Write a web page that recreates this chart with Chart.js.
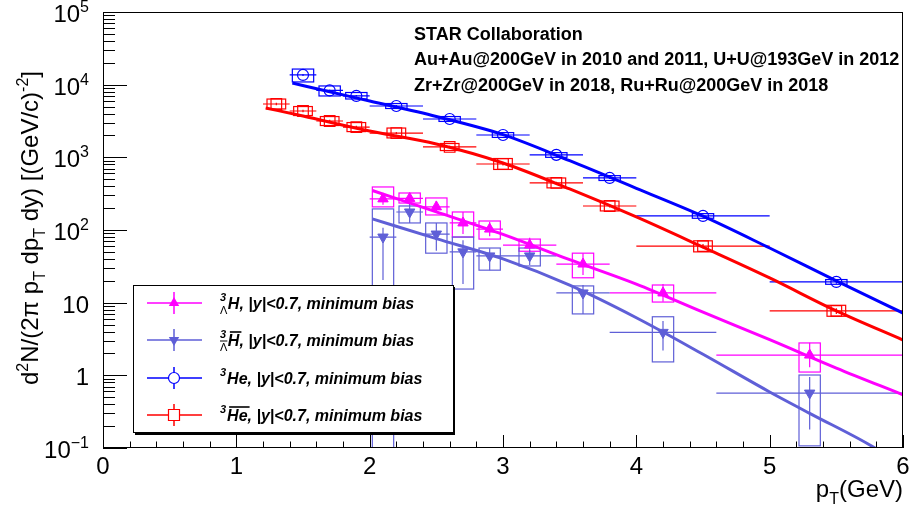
<!DOCTYPE html>
<html><head><meta charset="utf-8">
<script src="https://cdn.jsdelivr.net/npm/chart.js@4.4.0/dist/chart.umd.min.js"></script>
<style>html,body{margin:0;padding:0;background:#fff;}#wrap{width:913px;height:508px;}</style>
</head><body><div id="wrap"><canvas id="c" width="913" height="508"></canvas></div>
<script>
// ---------- data ----------
// 3He
const he3_pt     = [1.5, 1.7, 1.9, 2.2, 2.6, 3.0, 3.4, 3.8, 4.5, 5.5];
const he3_val    = [13600, 8320, 6990, 5090, 3370, 2030, 1080, 520, 156, 19.3];
const he3_xerr   = [0.1, 0.1, 0.1, 0.2, 0.2, 0.2, 0.2, 0.2, 0.5, 0.5];
const he3_statLo = [13200, 8100, 6800, 4950, 3280, 1980, 1050, 505, 150, 18.2];
const he3_statHi = [14000, 8550, 7180, 5230, 3460, 2080, 1110, 535, 162, 20.4];
const he3_sysLo  = [10900, 6990, 6350, 4700, 3120, 1880, 1000, 480, 145, 17.9];
const he3_sysHi  = [16400, 9600, 7800, 5500, 3640, 2190, 1160, 560, 168, 20.8];
// anti-3He
const ahe3_pt     = [1.3, 1.5, 1.7, 1.9, 2.2, 2.6, 3.0, 3.4, 3.8, 4.5, 5.5];
const ahe3_val    = [5420, 4340, 3160, 2610, 2160, 1390, 810, 444, 214, 60, 7.7];
const ahe3_xerr   = [0.1, 0.1, 0.1, 0.1, 0.2, 0.2, 0.2, 0.2, 0.2, 0.5, 0.5];
const ahe3_statLo = [5200, 4180, 3040, 2510, 2080, 1340, 775, 425, 204, 56, 7.0];
const ahe3_statHi = [5640, 4500, 3280, 2710, 2240, 1440, 845, 463, 224, 64, 8.4];
const ahe3_sysLo  = [4630, 3760, 2740, 2260, 1850, 1240, 681, 380, 183, 50, 6.5];
const ahe3_sysHi  = [6340, 5000, 3640, 3010, 2530, 1550, 963, 520, 250, 71, 9.2];
// hypertriton
const h3l_pt     = [2.1, 2.3, 2.5, 2.7, 2.9, 3.2, 3.6, 4.2, 5.3];
const h3l_val    = [268, 272, 208, 125, 103, 62, 34, 13.6, 1.9];
const h3l_xerr   = [0.1, 0.1, 0.1, 0.1, 0.1, 0.2, 0.2, 0.4, 0.7];
const h3l_statLo = [223, 231, 173, 88, 82, 49, 24, 10.3, 1.29];
const h3l_statHi = [322, 320, 249, 177, 130, 78, 48, 18, 2.8];
const h3l_sysLo  = [208, 235, 161, 80, 75, 51, 22, 10.2, 1.11];
const h3l_sysHi  = [391, 323, 276, 177, 133, 75, 48, 17.5, 2.79];
// anti-hypertriton
const ah3l_pt     = [2.1, 2.3, 2.5, 2.7, 2.9, 3.2, 3.6, 4.2, 5.3];
const ah3l_val    = [80, 177, 88, 50, 44, 44, 13.6, 3.9, 0.57];
const ah3l_xerr   = [0.1, 0.1, 0.1, 0.1, 0.1, 0.2, 0.2, 0.4, 0.7];
const ah3l_statLo = [20.5, 125, 52, 18, 28, 33, 7.0, 2.2, 0.18];
const ah3l_statHi = [107, 236, 125, 72, 56, 53, 17.5, 5.6, 0.95];
const ah3l_sysLo  = [0.05, 125, 48, 15.4, 28, 32, 7.0, 1.53, 0.107];
const ah3l_sysHi  = [195, 214, 125, 80, 56.5, 56.5, 17, 6.4, 1.01];
// fit curves
const he3_fit_pt   = [1.42, 1.7, 2.0, 2.5, 3.0, 3.5, 4.0, 4.5, 5.0, 5.5, 6.0];
const he3_fit_val  = [10540, 7980, 5960, 3650, 2050, 900, 375, 155, 56.5, 20, 7.2];
const ahe3_fit_pt  = [1.22, 1.5, 2.0, 2.5, 3.0, 3.5, 4.0, 4.5, 5.0, 5.5, 6.0];
const ahe3_fit_val = [4780, 3700, 2300, 1525, 835, 367, 151, 58, 21.9, 7.7, 3.06];
const h3l_fit_pt   = [2.02, 2.5, 3.0, 3.5, 4.0, 4.5, 5.0, 5.5, 6.0];
const h3l_fit_val  = [350, 178, 87, 39, 18, 7.4, 3.1, 1.26, 0.54];
const ah3l_fit_pt  = [2.02, 2.5, 3.0, 3.5, 4.0, 4.5, 5.0, 5.3, 5.79, 6.0];
const ah3l_fit_val = [142, 76, 40, 17.4, 6.2, 1.95, 0.59, 0.30, 0.1, 0.055];
// axes
const X_TICKS = [0, 1, 2, 3, 4, 5, 6];
const X_TICK_LABELS = ['0', '1', '2', '3', '4', '5', '6'];
const Y_TICKS = [0.1, 1, 10, 100, 1000, 10000, 100000];
const Y_TICK_LABELS = [['10', '\u22121'], ['1', ''], ['10', ''], ['10', '2'], ['10', '3'], ['10', '4'], ['10', '5']];
const NOTE_LINES = ['STAR Collaboration',
  'Au+Au@200GeV in 2010 and 2011, U+U@193GeV in 2012',
  'Zr+Zr@200GeV in 2018, Ru+Ru@200GeV in 2018'];
const LEGEND_TAIL = ', |y|<0.7, minimum bias';

// ---------- styling ----------
const FF = '"Liberation Sans", Arial, Helvetica, sans-serif';
const C_MAG = '#ff00ff', C_SLATE = '#5f5fd7', C_BLUE = '#0000ff', C_RED = '#ff0000';

const pts = (xs, ys) => xs.map((x, i) => ({x: x, y: ys[i]}));

const datasets = [
  {label: 'fit He3', data: pts(he3_fit_pt, he3_fit_val), borderColor: C_BLUE, borderWidth: 3, pointRadius: 0, showLine: true, cubicInterpolationMode: 'monotone', fill: false},
  {label: 'fit aHe3', data: pts(ahe3_fit_pt, ahe3_fit_val), borderColor: C_RED, borderWidth: 3, pointRadius: 0, showLine: true, cubicInterpolationMode: 'monotone', fill: false},
  {label: 'fit H3L', data: pts(h3l_fit_pt, h3l_fit_val), borderColor: C_MAG, borderWidth: 3, pointRadius: 0, showLine: true, cubicInterpolationMode: 'monotone', fill: false},
  {label: 'fit aH3L', data: pts(ah3l_fit_pt, ah3l_fit_val), borderColor: C_SLATE, borderWidth: 3, pointRadius: 0, showLine: true, cubicInterpolationMode: 'monotone', fill: false},
  {label: 'H3L', data: pts(h3l_pt, h3l_val), showLine: false, pointStyle: 'triangle', pointRadius: 6, borderColor: C_MAG, backgroundColor: C_MAG, borderWidth: 1,
    err: {xerr: h3l_xerr, lo: h3l_statLo, hi: h3l_statHi, sysLo: h3l_sysLo, sysHi: h3l_sysHi, boxW: 0.08}},
  {label: 'aH3L', data: pts(ah3l_pt, ah3l_val), showLine: false, pointStyle: 'triangle', pointRotation: 180, pointRadius: 6, borderColor: C_SLATE, backgroundColor: C_SLATE, borderWidth: 1,
    err: {xerr: ah3l_xerr, lo: ah3l_statLo, hi: ah3l_statHi, sysLo: ah3l_sysLo, sysHi: ah3l_sysHi, boxW: 0.08}},
  {label: 'He3', data: pts(he3_pt, he3_val), showLine: false, pointStyle: 'circle', pointRadius: 5.5, borderColor: C_BLUE, backgroundColor: 'rgba(0,0,0,0)', borderWidth: 1.2,
    err: {xerr: he3_xerr, lo: he3_statLo, hi: he3_statHi, sysLo: he3_sysLo, sysHi: he3_sysHi, boxW: 0.08}},
  {label: 'aHe3', data: pts(ahe3_pt, ahe3_val), showLine: false, pointStyle: 'rect', pointRadius: 7.5, borderColor: C_RED, backgroundColor: 'rgba(0,0,0,0)', borderWidth: 1.2,
    err: {xerr: ahe3_xerr, lo: ahe3_statLo, hi: ahe3_statHi, sysLo: ahe3_sysLo, sysHi: ahe3_sysHi, boxW: 0.07}}
];

function setFont(ctx, size, style) { ctx.font = (style || '') + size + 'px ' + FF; }

function drawRich(ctx, segs, x, y, base, small, style) {
  let cx = x;
  for (const [t, k] of segs) {
    if (k === 'n') { setFont(ctx, base, style); ctx.fillText(t, cx, y); cx += ctx.measureText(t).width; }
    else if (k === 'sup') { setFont(ctx, small, style); ctx.fillText(t, cx, y - base * 0.42); cx += ctx.measureText(t).width; }
    else { setFont(ctx, small, style); ctx.fillText(t, cx, y + base * 0.28); cx += ctx.measureText(t).width; }
  }
  return cx - x;
}
function richWidth(ctx, segs, base, small, style) {
  let w = 0;
  for (const [t, k] of segs) { setFont(ctx, k === 'n' ? base : small, style); w += ctx.measureText(t).width; }
  return w;
}

const bgPlugin = {
  id: 'bg',
  beforeDraw(chart) { const c = chart.ctx; c.save(); c.fillStyle = '#fff'; c.fillRect(0, 0, chart.width, chart.height); c.restore(); }
};

const errPlugin = {
  id: 'errs',
  beforeDatasetsDraw(chart) {
    const ctx = chart.ctx, a = chart.chartArea, xs = chart.scales.x, ys = chart.scales.y;
    ctx.save();
    ctx.beginPath(); ctx.rect(a.left, a.top, a.right - a.left, a.bottom - a.top); ctx.clip();
    chart.data.datasets.forEach(ds => {
      if (!ds.err) return;
      const e = ds.err;
      ctx.strokeStyle = ds.borderColor; ctx.lineWidth = 1.2;
      ds.data.forEach((p, i) => {
        const px = xs.getPixelForValue(p.x), py = ys.getPixelForValue(p.y);
        const bx0 = xs.getPixelForValue(p.x - e.boxW), bx1 = xs.getPixelForValue(p.x + e.boxW);
        const by0 = ys.getPixelForValue(e.sysHi[i]), by1 = ys.getPixelForValue(e.sysLo[i]);
        ctx.strokeRect(bx0, by0, bx1 - bx0, by1 - by0);
        ctx.beginPath();
        ctx.moveTo(xs.getPixelForValue(p.x - e.xerr[i]), py);
        ctx.lineTo(xs.getPixelForValue(p.x + e.xerr[i]), py);
        ctx.moveTo(px, ys.getPixelForValue(e.hi[i]));
        ctx.lineTo(px, ys.getPixelForValue(e.lo[i]));
        ctx.stroke();
      });
    });
    ctx.restore();
  }
};

function legendMarker(ctx, kind, color, x, y) {
  ctx.strokeStyle = color; ctx.fillStyle = color; ctx.lineWidth = 1.5;
  ctx.beginPath(); ctx.moveTo(147, y); ctx.lineTo(202, y); ctx.moveTo(x, y - 11); ctx.lineTo(x, y + 11); ctx.stroke();
  ctx.beginPath();
  if (kind === 'up') { ctx.moveTo(x, y - 6); ctx.lineTo(x + 5.2, y + 3); ctx.lineTo(x - 5.2, y + 3); ctx.closePath(); ctx.fill(); }
  else if (kind === 'down') { ctx.moveTo(x, y + 6); ctx.lineTo(x + 5.2, y - 3); ctx.lineTo(x - 5.2, y - 3); ctx.closePath(); ctx.fill(); }
  else if (kind === 'circle') { ctx.lineWidth = 1.2; ctx.fillStyle = '#fff'; ctx.arc(x, y, 5.5, 0, Math.PI * 2); ctx.fill(); ctx.stroke(); }
  else { ctx.lineWidth = 1.2; ctx.fillStyle = '#fff'; ctx.rect(x - 5.5, y - 5.5, 11, 11); ctx.fill(); ctx.stroke(); }
}

function legendText(ctx, row, y) {
  const x0 = 220, yb = y + 6;
  ctx.fillStyle = '#000'; ctx.strokeStyle = '#000'; ctx.textBaseline = 'alphabetic'; ctx.textAlign = 'left';
  setFont(ctx, 11, 'italic bold ');
  ctx.fillText('3', x0, yb - 8);
  let w3 = ctx.measureText('3').width;
  let cx = x0 + w3 + 1;
  if (row < 2) {
    setFont(ctx, 11, '');
    ctx.fillText('\u039B', x0, yb + 5);
    const wl = ctx.measureText('\u039B').width;
    if (row === 1) { ctx.lineWidth = 1; ctx.beginPath(); ctx.moveTo(x0, yb - 5); ctx.lineTo(x0 + wl, yb - 5); ctx.stroke(); }
    cx = x0 + Math.max(w3, wl) + 0.5;
  }
  const head = row < 2 ? 'H' : 'He';
  setFont(ctx, 16, 'italic bold ');
  ctx.fillText(head, cx, yb);
  const wh = ctx.measureText(head).width;
  if (row === 1 || row === 3) { ctx.lineWidth = 1.6; ctx.beginPath(); ctx.moveTo(cx + 2, yb - 14); ctx.lineTo(cx + wh + 2, yb - 14); ctx.stroke(); }
  ctx.fillText(LEGEND_TAIL, cx + wh, yb);
}

const decoPlugin = {
  id: 'deco',
  afterDatasetsDraw(chart) {
    const ctx = chart.ctx;
    ctx.save();
    ctx.fillStyle = '#fff'; ctx.fillRect(133, 285, 320, 147);
    ctx.strokeStyle = '#000'; ctx.lineWidth = 1; ctx.strokeRect(133.5, 285.5, 320, 147);
    ctx.lineWidth = 2; ctx.beginPath(); ctx.moveTo(454, 287); ctx.lineTo(454, 434); ctx.lineTo(135, 434); ctx.stroke();
    const rows = [[303, 'up', C_MAG], [340, 'down', C_SLATE], [378, 'circle', C_BLUE], [415, 'rect', C_RED]];
    rows.forEach((r, i) => { legendMarker(ctx, r[1], r[2], 174, r[0]); legendText(ctx, i, r[0]); });
    ctx.fillStyle = '#000'; ctx.textAlign = 'left'; ctx.textBaseline = 'middle';
    setFont(ctx, 18, 'bold ');
    NOTE_LINES.forEach((t, i) => ctx.fillText(t, 414, 35 + i * 25.5));
    ctx.restore();
  },
  afterDraw(chart) {
    const ctx = chart.ctx, a = chart.chartArea, xs = chart.scales.x, ys = chart.scales.y;
    ctx.save();
    ctx.strokeStyle = '#000'; ctx.lineWidth = 1;
    ctx.strokeRect(a.left + 0.5, a.top + 0.5, a.right - a.left - 1, a.bottom - a.top - 1);
    ctx.beginPath();
    for (let v = 0; v <= 6.0001; v += 0.2) {
      const px = Math.round(xs.getPixelForValue(v)) + 0.5;
      const major = Math.abs(v - Math.round(v)) < 1e-6;
      ctx.moveTo(px, a.bottom); ctx.lineTo(px, a.bottom - (major ? 13 : 6.5));
    }
    for (let d = -1; d <= 4; d++) {
      for (let m = 1; m <= 9; m++) {
        const v = m * Math.pow(10, d);
        const py = Math.round(ys.getPixelForValue(v)) + 0.5;
        ctx.moveTo(a.left, py); ctx.lineTo(a.left + (m === 1 ? 24 : 12), py);
      }
    }
    ctx.stroke();
    ctx.fillStyle = '#000'; ctx.textAlign = 'center'; ctx.textBaseline = 'middle';
    setFont(ctx, 24, '');
    X_TICKS.forEach((v, i) => ctx.fillText(X_TICK_LABELS[i], xs.getPixelForValue(v), 467));
    ctx.textBaseline = 'alphabetic'; ctx.textAlign = 'left';
    Y_TICKS.forEach((v, i) => {
      const [b, s] = Y_TICK_LABELS[i];
      const segs = s ? [[b, 'n'], [s, 'sup']] : [[b, 'n']];
      const w = richWidth(ctx, segs, 24, 16, '');
      const py = ys.getPixelForValue(v);
      drawRich(ctx, segs, 89 - w, py + 10, 24, 16, '');
    });
    const xt = [['p', 'n'], ['T', 'sub'], ['(GeV)', 'n']];
    const wx = richWidth(ctx, xt, 24, 16, '');
    drawRich(ctx, xt, 903 - wx, 497, 24, 16, '');
    const yt = [['d', 'n'], ['2', 'sup'], ['N/(2\u03C0 p', 'n'], ['T', 'sub'], [' dp', 'n'], ['T', 'sub'], [' dy) [(GeV/c)', 'n'], ['-2', 'sup'], [']', 'n']];
    const wy = richWidth(ctx, yt, 24, 16, '');
    ctx.translate(38, 228); ctx.rotate(-Math.PI / 2);
    drawRich(ctx, yt, -wy / 2, 0, 24, 16, '');
    ctx.restore();
  }
};

new Chart(document.getElementById('c'), {
  type: 'scatter',
  data: {datasets: datasets},
  options: {
    responsive: false, animation: false,
    layout: {padding: {left: 0, right: 10, top: 12, bottom: 0}},
    plugins: {legend: {display: false}, tooltip: {enabled: false}},
    scales: {
      x: {type: 'linear', min: 0, max: 6, ticks: {display: false}, grid: {display: false}, border: {display: false},
          afterFit: s => { s.height = 60; }},
      y: {type: 'logarithmic', min: 0.1, max: 100000, ticks: {display: false}, grid: {display: false}, border: {display: false},
          afterFit: s => { s.width = 103; }}
    }
  },
  plugins: [bgPlugin, errPlugin, decoPlugin]
});
</script></body></html>
